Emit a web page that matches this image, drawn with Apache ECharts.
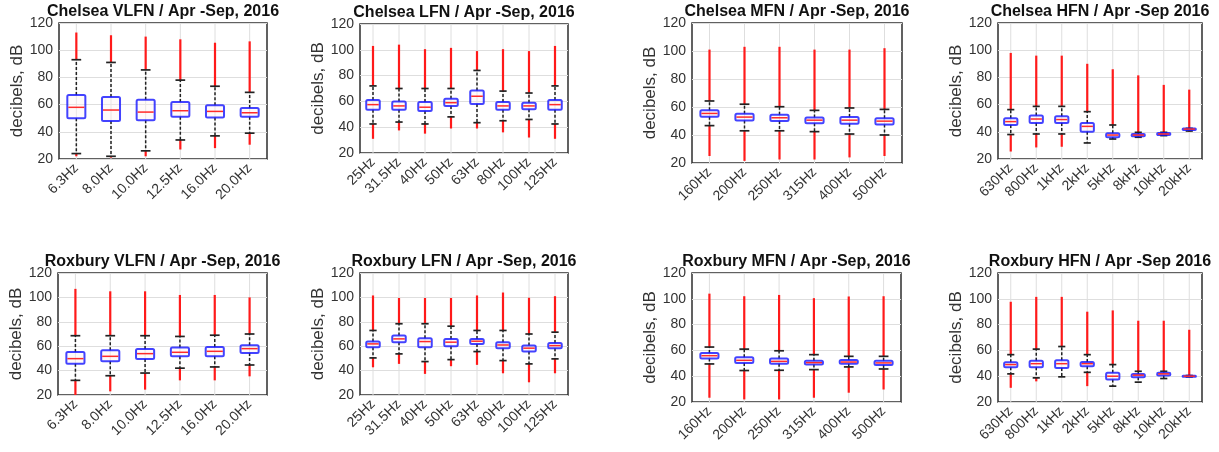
<!DOCTYPE html>
<html>
<head>
<meta charset="utf-8">
<script src="https://cdn.jsdelivr.net/npm/echarts@6/dist/echarts.min.js"></script>
<style>
  html, body { margin: 0; padding: 0; background: #ffffff; }
  #chart { width: 1219px; height: 452px; }
</style>
</head>
<body>
<div id="chart"></div>
<script>
// ---- Data: each row = [outlierLow, lowerWhisker, Q1, median, Q3, upperWhisker, outlierHigh] (dB)
const vlfnCats = ['6.3Hz', '8.0Hz', '10.0Hz', '12.5Hz', '16.0Hz', '20.0Hz'];
const lfnCats = ['25Hz', '31.5Hz', '40Hz', '50Hz', '63Hz', '80Hz', '100Hz', '125Hz'];
const mfnCats = ['160Hz', '200Hz', '250Hz', '315Hz', '400Hz', '500Hz'];
const hfnCats = ['630Hz', '800Hz', '1kHz', '2kHz', '5kHz', '8kHz', '10kHz', '20kHz'];

const chelseaVLFN = [
  [22, 24, 50, 58, 67, 93, 113],
  [21, 22, 48, 56, 65.5, 91, 111],
  [22, 26, 48.5, 54.5, 63.5, 85.5, 110],
  [27, 34, 51, 55.5, 62, 78, 108],
  [28, 37, 50.5, 55, 59.5, 73.5, 105.5],
  [30.5, 39, 51, 54, 57.5, 69, 106.5]
];
const chelseaLFN = [
  [31, 42.5, 53.5, 57.5, 61, 72, 103],
  [37.5, 44, 53.5, 56.5, 60, 70, 104],
  [35, 42.5, 52.5, 55.5, 59.5, 70, 100.5],
  [39, 48, 56.5, 59, 62, 70, 101.5],
  [39, 43.5, 58, 64, 68.5, 84, 99],
  [36, 45, 53.5, 56.5, 59.5, 68, 100.5],
  [32, 46, 54, 56.5, 59, 66.5, 99],
  [31, 42.5, 53.5, 57.5, 61, 72, 103]
];
const chelseaMFN = [
  [25, 46.7, 53, 55.4, 57.6, 64.3, 101],
  [21.5, 43, 50.4, 52.8, 55.2, 62, 103],
  [22.5, 43, 50, 52.3, 54.5, 60.2, 103],
  [22.5, 42.4, 48.4, 50.6, 52.5, 57.6, 101],
  [24, 40.7, 48, 50.6, 52.8, 59.3, 101],
  [25, 40, 47.5, 49.9, 52, 58.3, 102]
];
const chelseaHFN = [
  [25.5, 38, 45, 47.5, 50, 56.3, 98],
  [28.5, 38.4, 46.5, 49.4, 52, 58.7, 96],
  [29, 38.4, 46.5, 49, 51.5, 58.7, 96],
  [31.8, 31.8, 40, 44, 46.5, 54.8, 90],
  [34.7, 34.7, 36, 37.6, 39, 45, 86],
  [36, 36, 36.7, 37.6, 38.4, 39.6, 81.5],
  [37.2, 37.2, 37.6, 38.4, 39.1, 39.6, 74.5],
  [40, 40.6, 41.3, 42, 42.5, 42.5, 71]
];
const roxburyVLFN = [
  [20, 32, 45.7, 49.8, 55.2, 68.6, 107],
  [23, 35.8, 47.6, 51.7, 56.6, 68.6, 105],
  [24.4, 38, 49.5, 53.9, 57.7, 68.6, 105],
  [32, 42, 51.7, 55, 59, 68, 102],
  [32, 43, 51.7, 55.8, 59.3, 69, 102],
  [35.3, 44.6, 54.4, 58, 60.7, 70, 100]
];
const roxburyLFN = [
  [42.7, 50.4, 59.2, 61.9, 63.8, 72.9, 101.6],
  [45.5, 53.7, 63.3, 66, 68.8, 78.4, 99.5],
  [37.3, 47.4, 59.2, 63.8, 66.6, 78.4, 99.5],
  [43.6, 49, 60, 63.3, 66, 76.4, 99.5],
  [44.7, 55.6, 61.9, 64.1, 66, 72.9, 101.6],
  [37.8, 48.2, 58.4, 61, 63.3, 72.9, 104],
  [30.4, 45.5, 55.6, 58.4, 60.5, 70, 99.7],
  [37.8, 49.6, 58.4, 60.5, 62.7, 71.5, 101]
];
const roxburyMFN = [
  [23.3, 49.5, 53.8, 55.9, 58, 62.6, 104],
  [22, 44.4, 50.3, 52.3, 54.6, 61, 102],
  [22, 44.6, 49.7, 51.5, 53.8, 59.7, 103],
  [23.3, 45.1, 49, 50.5, 52, 56.7, 100.5],
  [27.2, 47.2, 49.7, 51, 52.6, 55.4, 101.8],
  [29.7, 45.6, 48.7, 50.3, 52, 55.4, 102]
];
const roxburyHFN = [
  [31, 41.8, 46.9, 49, 50.8, 56.7, 97.7],
  [36, 38.7, 46.9, 49.7, 52, 61, 101.5],
  [39.5, 39.5, 46.4, 49.7, 52.3, 63, 101.5],
  [32.3, 43, 47.7, 49.7, 51, 56.7, 90],
  [32.3, 32.3, 37.4, 40, 42.6, 49, 91],
  [35.4, 35.4, 39.2, 40.8, 41.8, 43.8, 83],
  [38.2, 38.2, 40.5, 41.8, 42.6, 43.8, 83],
  [39.5, 39.5, 39.7, 40, 40.3, 40.5, 76]
];
const yTicks = [20, 40, 60, 80, 100, 120];

const panels = [
  { title: 'Chelsea VLFN / Apr -Sep, 2016', cats: vlfnCats, rows: chelseaVLFN, box: [59, 23, 208, 136] },
  { title: 'Chelsea LFN / Apr -Sep, 2016', cats: lfnCats, rows: chelseaLFN, box: [360, 24, 208, 129] },
  { title: 'Chelsea MFN / Apr -Sep, 2016', cats: mfnCats, rows: chelseaMFN, box: [692, 23, 210, 140] },
  { title: 'Chelsea HFN / Apr -Sep 2016', cats: hfnCats, rows: chelseaHFN, box: [998, 23, 204, 136] },
  { title: 'Roxbury VLFN / Apr -Sep, 2016', cats: vlfnCats, rows: roxburyVLFN, box: [58, 273, 209, 122] },
  { title: 'Roxbury LFN / Apr -Sep, 2016', cats: lfnCats, rows: roxburyLFN, box: [360, 273, 208, 122] },
  { title: 'Roxbury MFN / Apr -Sep, 2016', cats: mfnCats, rows: roxburyMFN, box: [692, 273, 209, 129] },
  { title: 'Roxbury HFN / Apr -Sep 2016', cats: hfnCats, rows: roxburyHFN, box: [998, 273, 204, 129] }
];

const FONT = '"Liberation Sans", Arial, sans-serif';
const yMin = yTicks[0], yMax = yTicks[yTicks.length - 1];

function renderItem(params, api) {
  const i = api.value(0);
  const v = [1, 2, 3, 4, 5, 6, 7].map(k => api.value(k));
  const [outLo, wLo, q1, med, q3, wHi, outHi] = v;
  const P = val => api.coord([i, val]);
  const band = api.size([1, 0])[0];
  const bw = band * 0.52, cw = band * 0.28;
  const cx = P(med)[0];
  const y = val => P(val)[1];
  const children = [];
  // vertical grid line at category
  children.push({ type: 'line', shape: { x1: cx, y1: y(yMin), x2: cx, y2: y(yMax) },
    style: { stroke: '#dedede', lineWidth: 1 } });
  // outliers (red, dense)
  if (outHi > wHi) children.push({ type: 'line', shape: { x1: cx, y1: y(wHi), x2: cx, y2: y(outHi) },
    style: { stroke: '#ff1a1a', lineWidth: 2.2 } });
  if (outLo < wLo) children.push({ type: 'line', shape: { x1: cx, y1: y(wLo), x2: cx, y2: y(outLo) },
    style: { stroke: '#ff1a1a', lineWidth: 2.2 } });
  // whiskers
  children.push({ type: 'line', shape: { x1: cx, y1: y(q3), x2: cx, y2: y(wHi) },
    style: { stroke: '#222', lineWidth: 1.5, lineDash: [3, 2] } });
  children.push({ type: 'line', shape: { x1: cx, y1: y(q1), x2: cx, y2: y(wLo) },
    style: { stroke: '#222', lineWidth: 1.5, lineDash: [3, 2] } });
  // caps
  children.push({ type: 'line', shape: { x1: cx - cw / 2, y1: y(wHi), x2: cx + cw / 2, y2: y(wHi) },
    style: { stroke: '#222', lineWidth: 1.7 } });
  children.push({ type: 'line', shape: { x1: cx - cw / 2, y1: y(wLo), x2: cx + cw / 2, y2: y(wLo) },
    style: { stroke: '#222', lineWidth: 1.7 } });
  // box
  const yt = y(q3), yb = y(q1);
  children.push({ type: 'rect', shape: { x: cx - bw / 2, y: yt, width: bw, height: Math.max(yb - yt, 1), r: 1.5 },
    style: { fill: 'rgba(255,240,240,0.35)', stroke: 'rgba(20,20,255,0.8)', lineWidth: 2 } });
  // median
  children.push({ type: 'line', shape: { x1: cx - bw / 2 + 1, y1: y(med), x2: cx + bw / 2 - 1, y2: y(med) },
    style: { stroke: '#ff2a2a', lineWidth: 1.5 } });
  return { type: 'group', children };
}

const option = {
  backgroundColor: '#ffffff',
  animation: false,
  title: [], grid: [], xAxis: [], yAxis: [], series: []
};

panels.forEach((p, idx) => {
  const [l, t, w, h] = p.box;
  option.title.push({
    text: p.title, left: l + w / 2, top: t - 19, textAlign: 'center', padding: 0,
    textStyle: { fontFamily: FONT, fontSize: 16, fontWeight: 'bold', color: '#111' }
  });
  option.grid.push({ left: l, top: t, width: w, height: h, show: true,
    borderColor: '#2e2e2e', borderWidth: 1.5, backgroundColor: '#ffffff', containLabel: false });
  option.xAxis.push({
    type: 'category', gridIndex: idx, data: p.cats, boundaryGap: true,
    axisLine: { show: false }, axisTick: { show: false }, splitLine: { show: false },
    axisLabel: { interval: 0, rotate: 45, margin: 7, fontFamily: FONT, fontSize: 14, color: '#333' }
  });
  option.yAxis.push({
    type: 'value', gridIndex: idx, min: yMin, max: yMax, interval: 20,
    name: 'decibels, dB', nameLocation: 'middle', nameGap: 32,
    nameTextStyle: { fontFamily: FONT, fontSize: 17, color: '#333' },
    axisLine: { show: false }, axisTick: { show: false },
    axisLabel: { margin: 6, fontFamily: FONT, fontSize: 14, color: '#333' },
    splitLine: { show: true, lineStyle: { color: '#dedede', width: 1 } }
  });
  option.series.push({
    type: 'custom', xAxisIndex: idx, yAxisIndex: idx,
    renderItem: renderItem,
    encode: { x: 0, y: [1, 2, 3, 4, 5, 6, 7] },
    data: p.rows.map((r, i) => [i].concat(r))
  });
});

const chart = echarts.init(document.getElementById('chart'), null, { renderer: 'canvas' });
chart.setOption(option);
</script>
</body>
</html>
